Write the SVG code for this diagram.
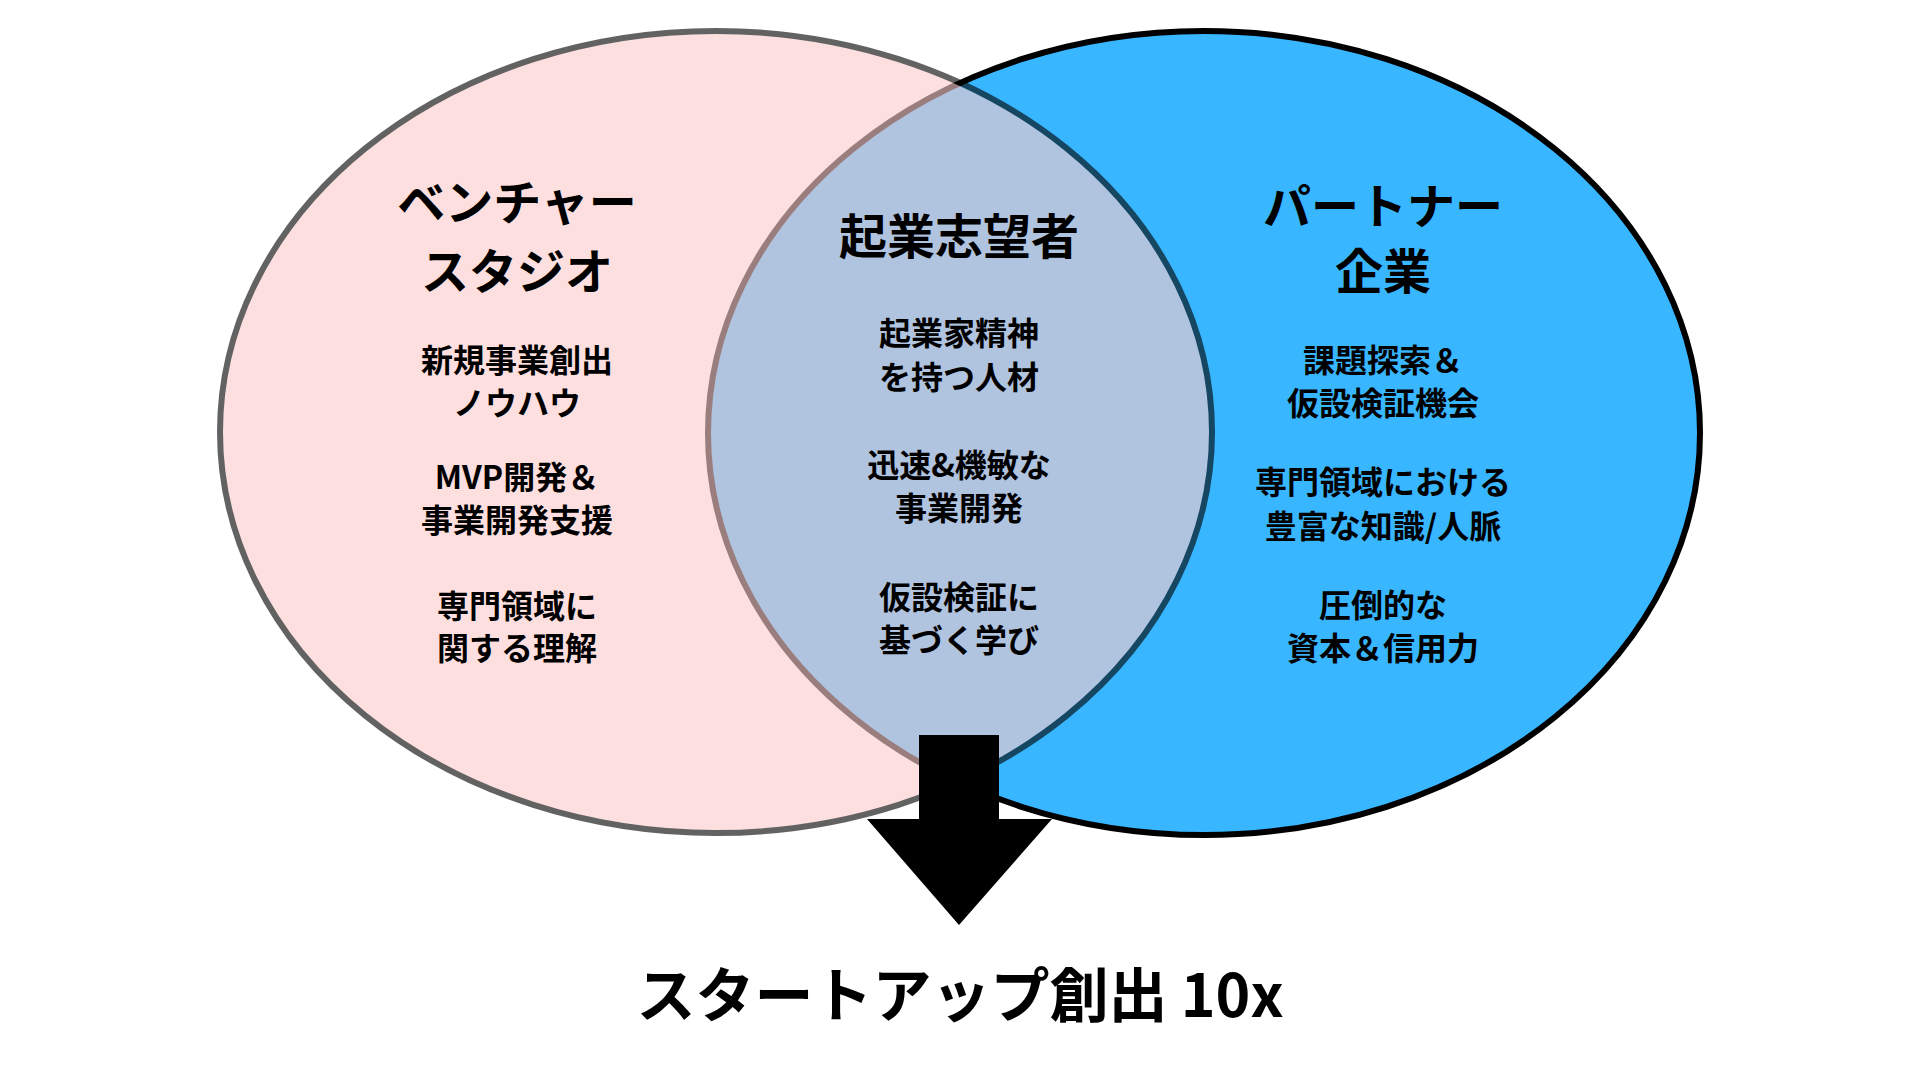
<svg xmlns="http://www.w3.org/2000/svg" width="1920" height="1080" viewBox="0 0 1920 1080">
<style>
  text { font-family: "Noto Sans CJK JP", "Noto Sans", sans-serif; font-weight: 700; fill: #000; text-anchor: middle; }
  .title { font-size: 48px; }
  .item { font-size: 32px; }
  .result { font-size: 59px; }
</style>
<rect width="1920" height="1080" fill="#ffffff"/>
<g id="partner">
  <ellipse cx="1204" cy="433" rx="496" ry="402" fill="#38b6ff" stroke="#000" stroke-width="6"/>
  <text class="title" x="1383" y="224">パートナー</text>
  <text class="title" x="1383" y="289">企業</text>
  <text class="item" x="1383" y="372">課題探索＆</text>
  <text class="item" x="1383" y="415">仮設検証機会</text>
  <text class="item" x="1383" y="494">専門領域における</text>
  <text class="item" x="1383" y="538">豊富な知識/人脈</text>
  <text class="item" x="1383" y="617">圧倒的な</text>
  <text class="item" x="1383" y="660">資本＆信用力</text>
</g>
<g id="venture-studio">
  <ellipse cx="716" cy="432" rx="496" ry="401" fill="#fccccc" stroke="#000" stroke-width="6" opacity="0.61"/>
  <text class="title" x="517" y="220">ベンチャー</text>
  <text class="title" x="517" y="289">スタジオ</text>
  <text class="item" x="517" y="372">新規事業創出</text>
  <text class="item" x="517" y="415">ノウハウ</text>
  <text class="item" x="517" y="489">MVP開発＆</text>
  <text class="item" x="517" y="532">事業開発支援</text>
  <text class="item" x="517" y="618">専門領域に</text>
  <text class="item" x="517" y="660">関する理解</text>
</g>
<g id="entrepreneur">
  <text class="title" x="959" y="254">起業志望者</text>
  <text class="item" x="959" y="345">起業家精神</text>
  <text class="item" x="959" y="389">を持つ人材</text>
  <text class="item" x="959" y="477">迅速&amp;機敏な</text>
  <text class="item" x="959" y="520">事業開発</text>
  <text class="item" x="959" y="609">仮設検証に</text>
  <text class="item" x="959" y="652">基づく学び</text>
</g>
<g id="connectors">
  <polygon points="919,735 999,735 999,819 1052,819 959,925 867,819 919,819" fill="#000"/>
</g>
<g id="startup">
  <text class="result" x="960" y="1017">スタートアップ創出 10x</text>
</g>
</svg>
